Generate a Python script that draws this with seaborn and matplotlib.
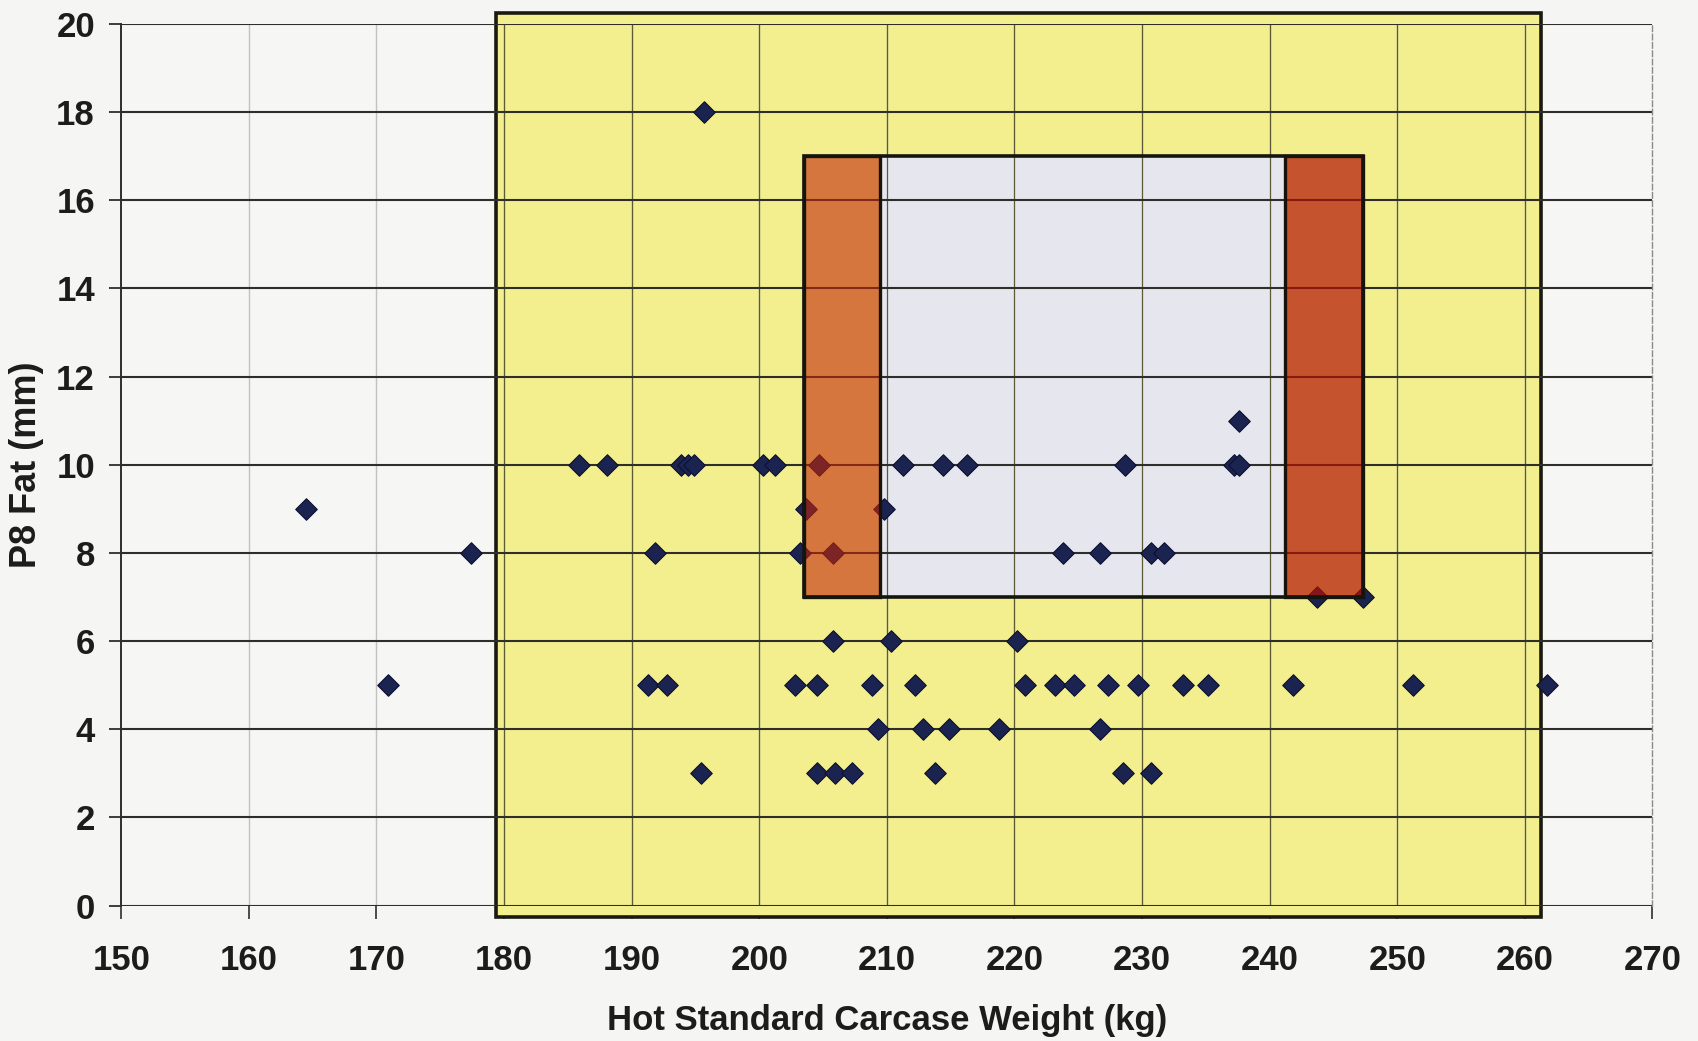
import matplotlib
matplotlib.use("Agg")
import matplotlib.pyplot as plt
import seaborn as sns
import pandas as pd
from matplotlib.patches import Rectangle

# ---------------- data ----------------
weight_kg = [164.5, 170.9, 177.4, 185.9, 188.1, 191.8, 191.3, 192.8, 193.9, 194.4,
             194.9, 195.7, 195.4, 200.3, 201.2, 202.8, 203.2, 203.7, 204.5, 204.7,
             204.5, 205.9, 207.3, 205.8, 205.8, 208.8, 209.3, 209.8, 210.3, 211.3,
             212.2, 212.8, 213.8, 214.4, 214.9, 216.3, 218.8, 220.2, 220.8, 223.2,
             223.8, 224.7, 226.7, 226.7, 227.3, 228.7, 228.5, 229.7, 230.7, 230.7,
             231.7, 233.2, 235.2, 237.2, 237.6, 237.6, 241.8, 243.7, 247.3, 251.2,
             261.7]
p8_fat_mm = [9, 5, 8, 10, 10, 8, 5, 5, 10, 10,
             10, 18, 3, 10, 10, 5, 8, 9, 5, 10,
             3, 3, 3, 6, 8, 5, 4, 9, 6, 10,
             5, 4, 3, 10, 4, 10, 4, 6, 5, 5,
             8, 5, 4, 8, 5, 10, 3, 5, 8, 3,
             8, 5, 5, 10, 10, 11, 5, 7, 7, 5,
             5]

x_ticks = [150, 160, 170, 180, 190, 200, 210, 220, 230, 240, 250, 260, 270]
y_ticks = [0, 2, 4, 6, 8, 10, 12, 14, 16, 18, 20]

# specification zones (kg, mm)
wide_zone_kg = (179.4, 261.3)
wide_zone_mm = (-0.25, 20.25)
target_zone_kg = (203.5, 247.3)
target_zone_mm = (7, 17)
left_band_kg = (203.5, 209.5)
right_band_kg = (241.2, 247.3)

df = pd.DataFrame({"weight": weight_kg, "fat": p8_fat_mm})

# ---------------- style ----------------
sns.set_theme(style="white")
plt.rcParams["font.family"] = ["Liberation Sans", "DejaVu Sans"]
plt.rcParams["font.weight"] = "bold"

fig = plt.figure(figsize=(16.99, 10.41), dpi=100, facecolor="#F5F5F3")
ax = fig.add_axes([0.0714, 0.1301, 0.9012, 0.847])
ax.set_facecolor("#F6F6F5")
ax.set_xlim(x_ticks[0], x_ticks[-1])
ax.set_ylim(y_ticks[0], y_ticks[-1])

# wide yellow zone
ax.add_patch(Rectangle((wide_zone_kg[0], wide_zone_mm[0]),
                       wide_zone_kg[1] - wide_zone_kg[0], wide_zone_mm[1] - wide_zone_mm[0],
                       facecolor="#F3EF8E", edgecolor="#1a1a10", lw=2.6, zorder=1, clip_on=False))
# light centre of target zone
ax.add_patch(Rectangle((left_band_kg[1], target_zone_mm[0]),
                       right_band_kg[0] - left_band_kg[1], target_zone_mm[1] - target_zone_mm[0],
                       facecolor="#E5E6EE", edgecolor="none", zorder=1.5))

# vertical grid
for xt in x_ticks[1:-1]:
    ax.axvline(xt, color="#C2C2C2", lw=1.0, zorder=1.2)
    if wide_zone_kg[0] < xt < wide_zone_kg[1]:
        ax.vlines(xt, wide_zone_mm[0], wide_zone_mm[1], color="#5c5a36", lw=0.9, zorder=2)
# horizontal grid
for yt in y_ticks:
    ax.axhline(yt, color="#2e2e2a", lw=1.5, zorder=2.2)

# data points
sns.scatterplot(data=df, x="weight", y="fat", marker="D", s=120, color="#1B2350",
                edgecolor="#0c1030", linewidth=0.8, zorder=3, ax=ax, legend=False)

# translucent red bands on top (points show through darkened)
ax.add_patch(Rectangle((left_band_kg[0], target_zone_mm[0]),
                       left_band_kg[1] - left_band_kg[0], target_zone_mm[1] - target_zone_mm[0],
                       facecolor="#C0260A", edgecolor="none", alpha=0.6, zorder=4))
ax.add_patch(Rectangle((right_band_kg[0], target_zone_mm[0]),
                       right_band_kg[1] - right_band_kg[0], target_zone_mm[1] - target_zone_mm[0],
                       facecolor="#B01105", edgecolor="none", alpha=0.7, zorder=4))
for band in (left_band_kg, right_band_kg):
    ax.add_patch(Rectangle((band[0], target_zone_mm[0]), band[1] - band[0],
                           target_zone_mm[1] - target_zone_mm[0],
                           facecolor="none", edgecolor="#1a1208", lw=2.4, zorder=4.4))
ax.add_patch(Rectangle((target_zone_kg[0], target_zone_mm[0]),
                       target_zone_kg[1] - target_zone_kg[0], target_zone_mm[1] - target_zone_mm[0],
                       facecolor="none", edgecolor="#15150f", lw=2.6, zorder=4.5))

# spines & ticks
for s in ["top", "bottom"]:
    ax.spines[s].set_visible(False)
ax.spines["left"].set_color("#2e2e2a")
ax.spines["left"].set_linewidth(1.4)
ax.spines["right"].set_color("#8a8a8a")
ax.spines["right"].set_linewidth(1.0)
ax.spines["right"].set_linestyle((0, (4, 2)))

ax.set_xticks(x_ticks)
ax.set_yticks(y_ticks)
ax.set_xticklabels([str(v) for v in x_ticks])
ax.set_yticklabels([str(v) for v in y_ticks])
ax.tick_params(axis="y", which="major", direction="out", length=9, width=1.3,
               color="#2e2e2a", pad=10, labelsize=25, labelcolor="#1c1c18", left=True)
ax.tick_params(axis="x", which="major", direction="out", length=9, width=1.2,
               color="#2e2e2a", pad=19, labelsize=25, labelcolor="#1c1c18", bottom=True)
for lab in ax.get_xticklabels() + ax.get_yticklabels():
    lab.set_fontweight("bold")

ax.set_xlabel("Hot Standard Carcase Weight (kg)", fontsize=25, fontweight="bold",
              color="#1c1c18", labelpad=19)
ax.set_ylabel("P8 Fat (mm)", fontsize=26, fontweight="bold", color="#1c1c18", labelpad=9)

fig.savefig("out.png", dpi=100, facecolor=fig.get_facecolor())
